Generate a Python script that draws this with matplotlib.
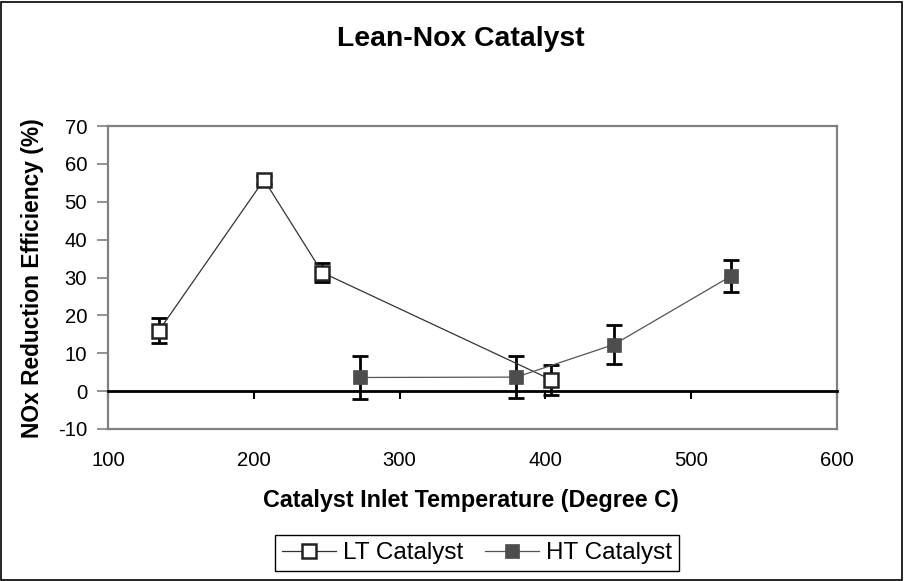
import matplotlib
matplotlib.use("Agg")
from matplotlib import pyplot as plt
from matplotlib.patches import Rectangle

# LT catalyst
lt_temp = [135, 207, 247, 404]
lt_eff = [16.0, 55.8, 31.3, 3.0]
lt_err = [3.3, 1.0, 2.5, 3.9]

# HT catalyst
ht_temp = [273, 380, 447, 527]
ht_eff = [3.6, 3.7, 12.3, 30.3]
ht_err = [5.6, 5.6, 5.1, 4.2]

x_ticks = [100, 200, 300, 400, 500, 600]
y_ticks = [-10, 0, 10, 20, 30, 40, 50, 60, 70]

plt.rcParams['font.family'] = ['Liberation Sans', 'DejaVu Sans']
plt.rcParams['axes.unicode_minus'] = False

fig = plt.figure(figsize=(9.05, 5.81), dpi=100)
ax = fig.add_axes([108 / 905, 1 - 429 / 581, 729 / 905, 303 / 581])

ax.set_xlim(100, 600)
ax.set_ylim(-10, 70)

# error bars first so the markers sit on top
ax.errorbar(lt_temp, lt_eff, yerr=lt_err, fmt='none', ecolor='black',
            elinewidth=2, capsize=5.5, capthick=2, zorder=2)
ax.errorbar(ht_temp, ht_eff, yerr=ht_err, fmt='none', ecolor='black',
            elinewidth=2, capsize=5.5, capthick=2, zorder=2)

ax.plot(lt_temp, lt_eff, color='#333333', lw=0.9, marker='s', markersize=9.5,
        markerfacecolor='white', markeredgecolor='#222222', markeredgewidth=1.8,
        label='LT Catalyst', zorder=3)
ax.plot(ht_temp, ht_eff, color='#555555', lw=0.9, marker='s', markersize=10.5,
        markerfacecolor='#4d4d4d', markeredgecolor='#4d4d4d', markeredgewidth=0.5,
        label='HT Catalyst', zorder=3)

# plot area frame
for side in ['top', 'right', 'left']:
    ax.spines[side].set_color('#808080')
    ax.spines[side].set_linewidth(1.6)

# x axis crosses at zero, labels stay at the bottom
ax.spines['bottom'].set_position(('data', 0))
ax.spines['bottom'].set_color('black')
ax.spines['bottom'].set_linewidth(2)
ax.set_xticks(x_ticks)
ax.tick_params(axis='x', direction='out', length=6, width=1.5, color='black',
               labelbottom=False)

sec = ax.secondary_xaxis(0.0)
sec.set_xticks(x_ticks)
sec.spines['bottom'].set_color('#808080')
sec.spines['bottom'].set_linewidth(1.6)
sec.tick_params(axis='x', length=0, labelsize=14.6, pad=16)

ax.set_yticks(y_ticks)
ax.tick_params(axis='y', direction='out', length=8, width=1.2, color='#808080',
               labelsize=14.6, pad=7)

fig.text(461 / 905, 1 - 39 / 581, 'Lean-Nox Catalyst', fontsize=20.4,
         fontweight='bold', ha='center', va='center')
fig.text(471 / 905, 1 - 500 / 581, 'Catalyst Inlet Temperature (Degree C)',
         fontsize=16.8, fontweight='bold', ha='center', va='center')
fig.text(33 / 905, 1 - 278 / 581, 'NOx Reduction Efficiency (%)',
         fontsize=16.4, fontweight='bold', ha='center', va='center',
         rotation=90)

leg = fig.legend(loc='center', bbox_to_anchor=(477 / 905, 1 - 553 / 581),
                 ncol=2, fontsize=17.5, frameon=True, fancybox=False,
                 edgecolor='black', framealpha=1, handlelength=2.2,
                 handletextpad=0.3, columnspacing=0.9, borderpad=0.3,
                 borderaxespad=0)
leg.get_frame().set_linewidth(1.0)

fig.patches.append(Rectangle((0.001, 0.002), 0.996, 0.995, transform=fig.transFigure,
                             fill=False, edgecolor='black', linewidth=1.2))

fig.savefig('out.png', dpi=100)
